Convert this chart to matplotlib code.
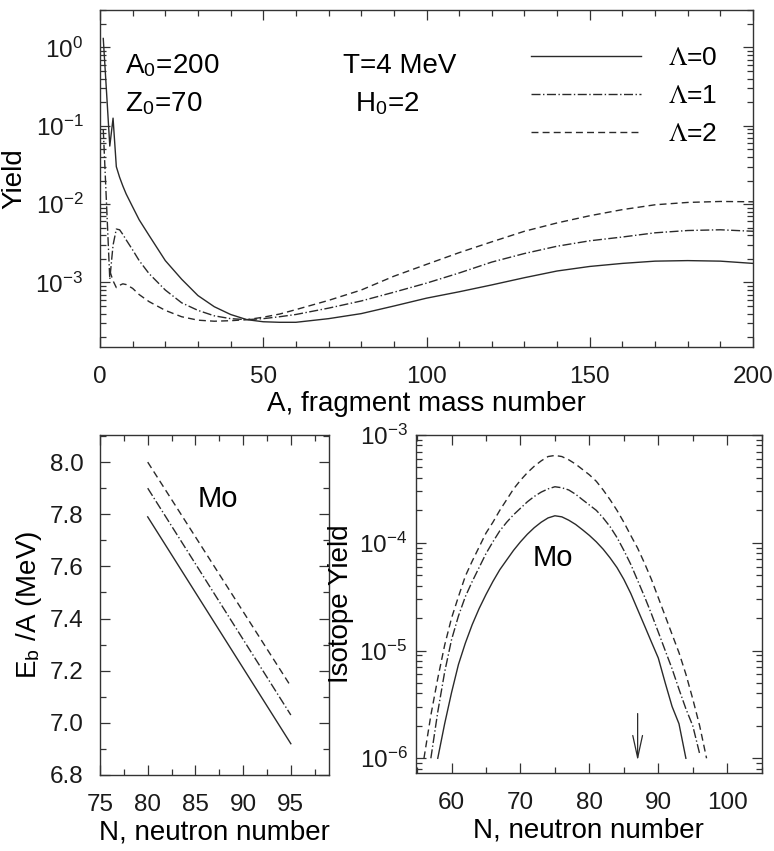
import numpy as np
import matplotlib
matplotlib.use('Agg')
import matplotlib.pyplot as plt
from matplotlib.ticker import LogLocator, MultipleLocator, NullFormatter, FormatStrFormatter

# ---------------- data ----------------
lambda_labels = [r'$\Lambda$=0', r'$\Lambda$=1', r'$\Lambda$=2']

# Top panel: yield vs fragment mass number A
mass_A = [1, 2, 3, 4, 5, 6, 7, 8, 10, 12, 15, 20, 25, 30, 35, 40, 45, 50, 55, 60,
          70, 80, 90, 100, 110, 120, 130, 140, 150, 160, 170, 180, 190, 200]
yield_lam0 = [1.3, 0.27, 0.055, 0.125, 0.03, 0.022, 0.017, 0.0135, 0.0092, 0.0063,
              0.0040, 0.0019, 0.0011, 6.8e-4, 4.9e-4, 3.9e-4, 3.35e-4, 3.15e-4, 3.1e-4, 3.1e-4,
              3.45e-4, 4.0e-4, 5.0e-4, 6.3e-4, 7.6e-4, 9.3e-4, 1.15e-3, 1.4e-3, 1.6e-3, 1.75e-3,
              1.87e-3, 1.9e-3, 1.87e-3, 1.75e-3]
yield_lam1 = [0.09, 0.01, 0.0011, 0.003, 0.0048, 0.0047, 0.0041, 0.0035, 0.0026, 0.0019,
              0.0013, 8.0e-4, 5.5e-4, 4.4e-4, 3.75e-4, 3.45e-4, 3.35e-4, 3.45e-4, 3.65e-4, 3.9e-4,
              4.7e-4, 5.8e-4, 7.5e-4, 9.8e-4, 1.32e-3, 1.82e-3, 2.34e-3, 2.9e-3, 3.4e-3, 3.8e-3,
              4.3e-3, 4.6e-3, 4.7e-3, 4.5e-3]
yield_lam2 = [np.nan, np.nan, 1.4e-3, 1.05e-3, 8.6e-4, 9.2e-4, 9.6e-4, 9.4e-4, 8.4e-4, 7.0e-4,
              5.7e-4, 4.4e-4, 3.65e-4, 3.3e-4, 3.2e-4, 3.25e-4, 3.35e-4, 3.6e-4, 3.95e-4, 4.5e-4,
              5.9e-4, 8.0e-4, 1.2e-3, 1.7e-3, 2.4e-3, 3.3e-3, 4.5e-3, 5.75e-3, 7.1e-3, 8.5e-3,
              9.8e-3, 1.05e-2, 1.08e-2, 1.07e-2]

# Bottom-left panel: binding energy per nucleon of Mo isotopes
eb_N = [80, 95]
eb_lam0 = [7.79, 6.92]
eb_lam1 = [7.90, 7.03]
eb_lam2 = [8.00, 7.14]

# Bottom-right panel: Mo isotope yields
iso_N_lam0 = list(range(58, 95))
iso_lam0 = [1.0e-6, 2.09e-6, 4.07e-6, 7.41e-6, 1.17e-5, 1.74e-5, 2.45e-5, 3.31e-5, 4.37e-5,
            5.62e-5, 6.92e-5, 8.51e-5, 1.02e-4, 1.20e-4, 1.38e-4, 1.55e-4, 1.70e-4, 1.78e-4,
            1.74e-4, 1.62e-4, 1.48e-4, 1.32e-4, 1.17e-4, 1.02e-4, 8.71e-5, 7.24e-5, 5.89e-5,
            4.57e-5, 3.39e-5, 2.40e-5, 1.70e-5, 1.20e-5, 8.51e-6, 5.01e-6, 3.02e-6, 2.09e-6,
            1.0e-6]
iso_N_lam1 = list(range(57, 97))
iso_lam1 = [1.0e-6, 2.69e-6, 6.31e-6, 1.26e-5, 2.09e-5, 3.16e-5, 4.37e-5, 5.89e-5, 7.94e-5,
            1.02e-4, 1.29e-4, 1.55e-4, 1.82e-4, 2.09e-4, 2.40e-4, 2.69e-4, 2.95e-4, 3.16e-4,
            3.31e-4, 3.24e-4, 3.09e-4, 2.82e-4, 2.51e-4, 2.24e-4, 2.00e-4, 1.70e-4, 1.41e-4,
            1.12e-4, 8.51e-5, 6.31e-5, 4.47e-5, 3.16e-5, 2.19e-5, 1.48e-5, 1.0e-5, 6.76e-6,
            4.37e-6, 2.88e-6, 2.0e-6, 1.1e-6]
iso_N_lam2 = list(range(56, 98))
iso_lam2 = [1.0e-6, 2.51e-6, 5.50e-6, 1.12e-5, 2.00e-5, 3.16e-5, 4.90e-5, 6.76e-5, 9.12e-5,
            1.23e-4, 1.55e-4, 2.00e-4, 2.51e-4, 3.16e-4, 3.80e-4, 4.47e-4, 5.13e-4, 5.75e-4,
            6.31e-4, 6.46e-4, 6.31e-4, 5.89e-4, 5.37e-4, 4.79e-4, 4.27e-4, 3.72e-4, 3.09e-4,
            2.51e-4, 2.00e-4, 1.55e-4, 1.17e-4, 8.91e-5, 6.46e-5, 4.57e-5, 3.09e-5, 2.09e-5,
            1.41e-5, 9.55e-6, 6.03e-6, 3.55e-6, 2.0e-6, 1.0e-6]

arrow_N = 87
arrow_from = 2.6e-6
arrow_to = 0.95e-6

# ---------------- style ----------------
plt.rcParams['font.family'] = ['Liberation Sans', 'DejaVu Sans']
plt.rcParams['mathtext.fontset'] = 'stix'
lc = '#2a2a2a'
sc = '#333333'
TICK = 17.5
LAB = 20
line_styles = [dict(ls='-'), dict(dashes=(6.5, 1.8, 1.0, 1.8)), dict(dashes=(5, 3))]

fig = plt.figure(figsize=(7.74, 8.51), dpi=100)
W, H = 774.0, 851.0
ax1 = fig.add_axes([100 / W, 1 - 347 / H, 653 / W, 337 / H])
ax2 = fig.add_axes([100 / W, 1 - 775 / H, 229 / W, 340 / H])
ax3 = fig.add_axes([415.7 / W, 1 - 773 / H, 346 / W, 338 / H])

for ax in (ax1, ax2, ax3):
    for s in ax.spines.values():
        s.set_color(sc)
        s.set_linewidth(1.0)
    ax.tick_params(which='both', direction='in', top=True, right=True, color=sc,
                   labelsize=TICK, labelcolor='#1a1a1a', width=0.9)
    ax.tick_params(which='major', length=7)
    ax.tick_params(which='minor', length=4.5)

# ---- top panel ----
for ys, lab, st in zip([yield_lam0, yield_lam1, yield_lam2], lambda_labels, line_styles):
    ax1.plot(mass_A, ys, color=lc, lw=1.0, label=lab, **st)
ax1.set_yscale('log')
ax1.set_xlim(0, 200)
ax1.set_ylim(1.5e-4, 3)
ax1.xaxis.set_major_locator(MultipleLocator(50))
ax1.xaxis.set_minor_locator(MultipleLocator(10))
ax1.yaxis.set_major_locator(LogLocator(base=10, numticks=12))
ax1.yaxis.set_minor_locator(LogLocator(base=10, subs=np.arange(2, 10), numticks=12))
ax1.yaxis.set_minor_formatter(NullFormatter())
ax1.tick_params(axis='x', pad=14)
ax1.tick_params(axis='y', pad=12)
ax1.set_xlabel('A, fragment mass number', fontsize=LAB, labelpad=2)
ax1.set_ylabel('Yield', fontsize=LAB, labelpad=6)
ax1.text(0.038, 0.835, r'A$_{\mathdefault{0}}$=200', transform=ax1.transAxes,
         fontsize=LAB, va='center', ha='left')
ax1.text(0.038, 0.722, r'Z$_{\mathdefault{0}}$=70', transform=ax1.transAxes,
         fontsize=LAB, va='center', ha='left')
ax1.text(0.372, 0.835, 'T=4 MeV', transform=ax1.transAxes,
         fontsize=LAB, va='center', ha='left')
ax1.text(0.39, 0.722, r'H$_{\mathdefault{0}}$=2', transform=ax1.transAxes,
         fontsize=LAB, va='center', ha='left')
leg = ax1.legend(loc='upper right', bbox_to_anchor=(0.946, 0.892), frameon=False,
                 fontsize=19, handlelength=4.17, handletextpad=1.02, labelspacing=0.52,
                 borderpad=0, borderaxespad=0)

# ---- bottom-left panel ----
for ys, st in zip([eb_lam0, eb_lam1, eb_lam2], line_styles):
    ax2.plot(eb_N, ys, color=lc, lw=1.0, **st)
ax2.set_xlim(75, 99)
ax2.set_ylim(6.8, 8.104)
ax2.xaxis.set_major_locator(MultipleLocator(5))
ax2.xaxis.set_minor_locator(MultipleLocator(2.5))
ax2.yaxis.set_major_locator(MultipleLocator(0.2))
ax2.yaxis.set_minor_locator(MultipleLocator(0.1))
ax2.yaxis.set_major_formatter(FormatStrFormatter('%.1f'))
ax2.tick_params(axis='x', pad=14)
ax2.tick_params(axis='y', pad=12)
ax2.set_xlabel('N, neutron number', fontsize=LAB, labelpad=2)
ax2.set_ylabel(r'E$_{\mathdefault{b}}$ /A (MeV)', fontsize=LAB, labelpad=4)
ax2.text(0.515, 0.812, 'Mo', transform=ax2.transAxes, fontsize=LAB + 1,
         ha='center', va='center')

# ---- bottom-right panel ----
for xs, ys, st in zip([iso_N_lam0, iso_N_lam1, iso_N_lam2],
                      [iso_lam0, iso_lam1, iso_lam2], line_styles):
    ax3.plot(xs, ys, color=lc, lw=1.0, **st)
ax3.set_yscale('log')
ax3.set_xlim(54.8, 105)
ax3.set_ylim(7.3e-7, 1e-3)
ax3.xaxis.set_major_locator(MultipleLocator(10))
ax3.xaxis.set_minor_locator(MultipleLocator(5))
ax3.yaxis.set_major_locator(LogLocator(base=10, numticks=12))
ax3.yaxis.set_minor_locator(LogLocator(base=10, subs=np.arange(2, 10), numticks=12))
ax3.yaxis.set_minor_formatter(NullFormatter())
ax3.tick_params(axis='x', pad=14)
ax3.tick_params(axis='y', pad=6)
ax3.set_xlabel('N, neutron number', fontsize=LAB, labelpad=2)
ax3.set_ylabel('Isotope Yield', fontsize=LAB, labelpad=4)
ax3.text(0.397, 0.636, 'Mo', transform=ax3.transAxes, fontsize=LAB + 1,
         ha='center', va='center')
ax3.annotate('', xy=(arrow_N, arrow_to), xytext=(arrow_N, arrow_from),
             arrowprops=dict(arrowstyle='->,head_length=1.6,head_width=0.35',
                             color=lc, lw=0.9, shrinkA=0, shrinkB=0))

fig.savefig('out.png', dpi=100)
